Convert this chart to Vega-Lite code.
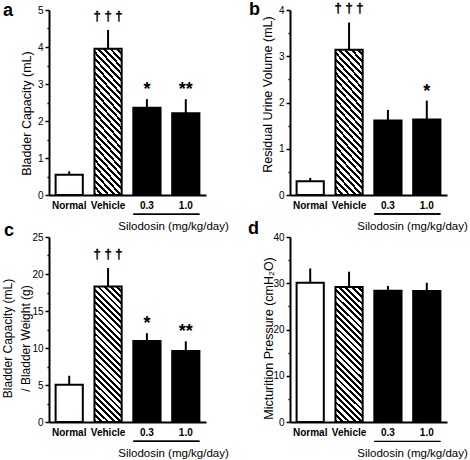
{
"$schema":"https://vega.github.io/schema/vega-lite/v6.json",
"columns":2,
"spacing":{"row":42,"column":84},
"bounds":"flush",
"padding":{"left":1,"top":0,"right":0,"bottom":0},
"config":{"font":"Liberation Sans","view":{"stroke":null},"axis":{"grid":false,"domainColor":"black","tickColor":"black","labelColor":"black","titleColor":"black","titleFontWeight":"normal"}},
"concat":[
{
 "width":157,"height":185,
 "title":{"text":"a","anchor":"start","frame":"group","orient":"top","offset":0,"dx":-46,"dy":29,"fontSize":18,"fontWeight":"bold","baseline":"alphabetic","color":"black"},
 "data":{"values":[
   {"g":"Normal","v":0.55,"hi":0.64,"sig":""},
   {"g":"Vehicle","v":3.95,"hi":4.46,"sig":"† † †"},
   {"g":"0.3","v":2.36,"hi":2.59,"sig":"*"},
   {"g":"1.0","v":2.21,"hi":2.59,"sig":"**"}]},
 "encoding":{
   "x":{"field":"g","type":"nominal","sort":null,"scale":{"paddingInner":0.3,"paddingOuter":0.17},
        "axis":{"title":"Silodosin (mg/kg/day)","titleX":124,"titleY":31,"titleAlign":"center","titleBaseline":"middle","titleFontSize":11.5,"titleFontWeight":"normal","labelAngle":0,"labelFont":"Liberation Sans","labelFontWeight":"bold","labelFontSize":10,"labelPadding":5,"ticks":false,"tickSize":0,"domainWidth":2}},
   "y":{"field":"v","type":"quantitative","scale":{"domain":[0,5],"nice":false},
        "axis":{"title":"Bladder Capacity (mL)","titleX":-23,"titleY":103,"titleAlign":"center","titleBaseline":"middle","values":[0,0.5,1,1.5,2,2.5,3,3.5,4,4.5,5],"labelExpr":"datum.value % 1 ? '' : '' + datum.value","tickSize":{"condition":{"test":"datum.value % 1 !== 0","value":2},"value":4},"tickWidth":1.5,"domainWidth":2,"labelFontSize":10,"labelPadding":2,"titleFontSize":12.5}}
 },
 "layer":[
  {"mark":{"type":"rule","strokeWidth":2,"color":"black"},"encoding":{"y2":{"field":"hi"}}},
  {"mark":{"type":"bar","stroke":"black","strokeWidth":2},"encoding":{"fill":{"condition":[{"test":"datum.g === 'Normal'","value":"white"},{"test":"datum.g === 'Vehicle'","value":{"gradient":"linear","x1":0,"y1":1,"x2":0.231,"y2":-0.154,"stops":[{"offset":0,"color":"#000"},{"offset":0.0173,"color":"#000"},{"offset":0.0173,"color":"#fff"},{"offset":0.0385,"color":"#fff"},{"offset":0.0385,"color":"#000"},{"offset":0.0558,"color":"#000"},{"offset":0.0558,"color":"#fff"},{"offset":0.0769,"color":"#fff"},{"offset":0.0769,"color":"#000"},{"offset":0.0942,"color":"#000"},{"offset":0.0942,"color":"#fff"},{"offset":0.1154,"color":"#fff"},{"offset":0.1154,"color":"#000"},{"offset":0.1327,"color":"#000"},{"offset":0.1327,"color":"#fff"},{"offset":0.1538,"color":"#fff"},{"offset":0.1538,"color":"#000"},{"offset":0.1712,"color":"#000"},{"offset":0.1712,"color":"#fff"},{"offset":0.1923,"color":"#fff"},{"offset":0.1923,"color":"#000"},{"offset":0.2096,"color":"#000"},{"offset":0.2096,"color":"#fff"},{"offset":0.2308,"color":"#fff"},{"offset":0.2308,"color":"#000"},{"offset":0.2481,"color":"#000"},{"offset":0.2481,"color":"#fff"},{"offset":0.2692,"color":"#fff"},{"offset":0.2692,"color":"#000"},{"offset":0.2865,"color":"#000"},{"offset":0.2865,"color":"#fff"},{"offset":0.3077,"color":"#fff"},{"offset":0.3077,"color":"#000"},{"offset":0.325,"color":"#000"},{"offset":0.325,"color":"#fff"},{"offset":0.3462,"color":"#fff"},{"offset":0.3462,"color":"#000"},{"offset":0.3635,"color":"#000"},{"offset":0.3635,"color":"#fff"},{"offset":0.3846,"color":"#fff"},{"offset":0.3846,"color":"#000"},{"offset":0.4019,"color":"#000"},{"offset":0.4019,"color":"#fff"},{"offset":0.4231,"color":"#fff"},{"offset":0.4231,"color":"#000"},{"offset":0.4404,"color":"#000"},{"offset":0.4404,"color":"#fff"},{"offset":0.4615,"color":"#fff"},{"offset":0.4615,"color":"#000"},{"offset":0.4788,"color":"#000"},{"offset":0.4788,"color":"#fff"},{"offset":0.5,"color":"#fff"},{"offset":0.5,"color":"#000"},{"offset":0.5173,"color":"#000"},{"offset":0.5173,"color":"#fff"},{"offset":0.5385,"color":"#fff"},{"offset":0.5385,"color":"#000"},{"offset":0.5558,"color":"#000"},{"offset":0.5558,"color":"#fff"},{"offset":0.5769,"color":"#fff"},{"offset":0.5769,"color":"#000"},{"offset":0.5942,"color":"#000"},{"offset":0.5942,"color":"#fff"},{"offset":0.6154,"color":"#fff"},{"offset":0.6154,"color":"#000"},{"offset":0.6327,"color":"#000"},{"offset":0.6327,"color":"#fff"},{"offset":0.6538,"color":"#fff"},{"offset":0.6538,"color":"#000"},{"offset":0.6712,"color":"#000"},{"offset":0.6712,"color":"#fff"},{"offset":0.6923,"color":"#fff"},{"offset":0.6923,"color":"#000"},{"offset":0.7096,"color":"#000"},{"offset":0.7096,"color":"#fff"},{"offset":0.7308,"color":"#fff"},{"offset":0.7308,"color":"#000"},{"offset":0.7481,"color":"#000"},{"offset":0.7481,"color":"#fff"},{"offset":0.7692,"color":"#fff"},{"offset":0.7692,"color":"#000"},{"offset":0.7865,"color":"#000"},{"offset":0.7865,"color":"#fff"},{"offset":0.8077,"color":"#fff"},{"offset":0.8077,"color":"#000"},{"offset":0.825,"color":"#000"},{"offset":0.825,"color":"#fff"},{"offset":0.8462,"color":"#fff"},{"offset":0.8462,"color":"#000"},{"offset":0.8635,"color":"#000"},{"offset":0.8635,"color":"#fff"},{"offset":0.8846,"color":"#fff"},{"offset":0.8846,"color":"#000"},{"offset":0.9019,"color":"#000"},{"offset":0.9019,"color":"#fff"},{"offset":0.9231,"color":"#fff"},{"offset":0.9231,"color":"#000"},{"offset":0.9404,"color":"#000"},{"offset":0.9404,"color":"#fff"},{"offset":0.9615,"color":"#fff"},{"offset":0.9615,"color":"#000"},{"offset":0.9788,"color":"#000"},{"offset":0.9788,"color":"#fff"},{"offset":1,"color":"#fff"}]}}],"value":"black"}}},
  {"transform":[{"filter":"datum.sig === '† † †'"}],"mark":{"type":"text","font":"Liberation Sans","fontSize":13,"baseline":"alphabetic","dy":-10,"fill":"black","stroke":"black","strokeWidth":0.5},"encoding":{"y":{"field":"hi","type":"quantitative"},"text":{"field":"sig"}}},
  {"transform":[{"filter":"datum.sig === '*' || datum.sig === '**'"}],"mark":{"type":"text","fontSize":18,"fontWeight":"bold","baseline":"alphabetic","dy":-4,"color":"black"},"encoding":{"y":{"field":"hi","type":"quantitative"},"text":{"field":"sig"}}},
  {"mark":{"type":"rule","strokeWidth":1,"color":"black"},"encoding":{"x":{"datum":"0.3","bandPosition":0},"x2":{"datum":"1.0","bandPosition":1},"y":{"datum":-0.52}}}
 ]
},
{
 "width":157,"height":185,
 "title":{"text":"b","anchor":"start","frame":"group","orient":"top","offset":0,"dx":-41,"dy":30.5,"fontSize":18,"fontWeight":"bold","baseline":"alphabetic","color":"black"},
 "data":{"values":[
   {"g":"Normal","v":0.30,"hi":0.37,"sig":""},
   {"g":"Vehicle","v":3.14,"hi":3.73,"sig":"† † †"},
   {"g":"0.3","v":1.61,"hi":1.84,"sig":""},
   {"g":"1.0","v":1.63,"hi":2.04,"sig":"*"}]},
 "encoding":{
   "x":{"field":"g","type":"nominal","sort":null,"scale":{"paddingInner":0.3,"paddingOuter":0.17},
        "axis":{"title":"Silodosin (mg/kg/day)","titleX":122,"titleY":31,"titleAlign":"center","titleBaseline":"middle","titleFontSize":11.5,"titleFontWeight":"normal","labelAngle":0,"labelFont":"Liberation Sans","labelFontWeight":"bold","labelFontSize":10,"labelPadding":5,"ticks":false,"tickSize":0,"domainWidth":2}},
   "y":{"field":"v","type":"quantitative","scale":{"domain":[0,4],"nice":false},
        "axis":{"title":"Residual Urine Volume (mL)","titleX":-23,"titleY":84,"titleAlign":"center","titleBaseline":"middle","values":[0,0.5,1,1.5,2,2.5,3,3.5,4],"labelExpr":"datum.value % 1 ? '' : '' + datum.value","tickSize":{"condition":{"test":"datum.value % 1 !== 0","value":2},"value":4},"tickWidth":1.5,"domainWidth":2,"labelFontSize":10,"labelPadding":2,"titleFontSize":12.5}}
 },
 "layer":[
  {"mark":{"type":"rule","strokeWidth":2,"color":"black"},"encoding":{"y2":{"field":"hi"}}},
  {"mark":{"type":"bar","stroke":"black","strokeWidth":2},"encoding":{"fill":{"condition":[{"test":"datum.g === 'Normal'","value":"white"},{"test":"datum.g === 'Vehicle'","value":{"gradient":"linear","x1":0,"y1":1,"x2":0.231,"y2":-0.154,"stops":[{"offset":0,"color":"#000"},{"offset":0.0173,"color":"#000"},{"offset":0.0173,"color":"#fff"},{"offset":0.0385,"color":"#fff"},{"offset":0.0385,"color":"#000"},{"offset":0.0558,"color":"#000"},{"offset":0.0558,"color":"#fff"},{"offset":0.0769,"color":"#fff"},{"offset":0.0769,"color":"#000"},{"offset":0.0942,"color":"#000"},{"offset":0.0942,"color":"#fff"},{"offset":0.1154,"color":"#fff"},{"offset":0.1154,"color":"#000"},{"offset":0.1327,"color":"#000"},{"offset":0.1327,"color":"#fff"},{"offset":0.1538,"color":"#fff"},{"offset":0.1538,"color":"#000"},{"offset":0.1712,"color":"#000"},{"offset":0.1712,"color":"#fff"},{"offset":0.1923,"color":"#fff"},{"offset":0.1923,"color":"#000"},{"offset":0.2096,"color":"#000"},{"offset":0.2096,"color":"#fff"},{"offset":0.2308,"color":"#fff"},{"offset":0.2308,"color":"#000"},{"offset":0.2481,"color":"#000"},{"offset":0.2481,"color":"#fff"},{"offset":0.2692,"color":"#fff"},{"offset":0.2692,"color":"#000"},{"offset":0.2865,"color":"#000"},{"offset":0.2865,"color":"#fff"},{"offset":0.3077,"color":"#fff"},{"offset":0.3077,"color":"#000"},{"offset":0.325,"color":"#000"},{"offset":0.325,"color":"#fff"},{"offset":0.3462,"color":"#fff"},{"offset":0.3462,"color":"#000"},{"offset":0.3635,"color":"#000"},{"offset":0.3635,"color":"#fff"},{"offset":0.3846,"color":"#fff"},{"offset":0.3846,"color":"#000"},{"offset":0.4019,"color":"#000"},{"offset":0.4019,"color":"#fff"},{"offset":0.4231,"color":"#fff"},{"offset":0.4231,"color":"#000"},{"offset":0.4404,"color":"#000"},{"offset":0.4404,"color":"#fff"},{"offset":0.4615,"color":"#fff"},{"offset":0.4615,"color":"#000"},{"offset":0.4788,"color":"#000"},{"offset":0.4788,"color":"#fff"},{"offset":0.5,"color":"#fff"},{"offset":0.5,"color":"#000"},{"offset":0.5173,"color":"#000"},{"offset":0.5173,"color":"#fff"},{"offset":0.5385,"color":"#fff"},{"offset":0.5385,"color":"#000"},{"offset":0.5558,"color":"#000"},{"offset":0.5558,"color":"#fff"},{"offset":0.5769,"color":"#fff"},{"offset":0.5769,"color":"#000"},{"offset":0.5942,"color":"#000"},{"offset":0.5942,"color":"#fff"},{"offset":0.6154,"color":"#fff"},{"offset":0.6154,"color":"#000"},{"offset":0.6327,"color":"#000"},{"offset":0.6327,"color":"#fff"},{"offset":0.6538,"color":"#fff"},{"offset":0.6538,"color":"#000"},{"offset":0.6712,"color":"#000"},{"offset":0.6712,"color":"#fff"},{"offset":0.6923,"color":"#fff"},{"offset":0.6923,"color":"#000"},{"offset":0.7096,"color":"#000"},{"offset":0.7096,"color":"#fff"},{"offset":0.7308,"color":"#fff"},{"offset":0.7308,"color":"#000"},{"offset":0.7481,"color":"#000"},{"offset":0.7481,"color":"#fff"},{"offset":0.7692,"color":"#fff"},{"offset":0.7692,"color":"#000"},{"offset":0.7865,"color":"#000"},{"offset":0.7865,"color":"#fff"},{"offset":0.8077,"color":"#fff"},{"offset":0.8077,"color":"#000"},{"offset":0.825,"color":"#000"},{"offset":0.825,"color":"#fff"},{"offset":0.8462,"color":"#fff"},{"offset":0.8462,"color":"#000"},{"offset":0.8635,"color":"#000"},{"offset":0.8635,"color":"#fff"},{"offset":0.8846,"color":"#fff"},{"offset":0.8846,"color":"#000"},{"offset":0.9019,"color":"#000"},{"offset":0.9019,"color":"#fff"},{"offset":0.9231,"color":"#fff"},{"offset":0.9231,"color":"#000"},{"offset":0.9404,"color":"#000"},{"offset":0.9404,"color":"#fff"},{"offset":0.9615,"color":"#fff"},{"offset":0.9615,"color":"#000"},{"offset":0.9788,"color":"#000"},{"offset":0.9788,"color":"#fff"},{"offset":1,"color":"#fff"}]}}],"value":"black"}}},
  {"transform":[{"filter":"datum.sig === '† † †'"}],"mark":{"type":"text","font":"Liberation Sans","fontSize":13,"baseline":"alphabetic","dy":-10,"fill":"black","stroke":"black","strokeWidth":0.5},"encoding":{"y":{"field":"hi","type":"quantitative"},"text":{"field":"sig"}}},
  {"transform":[{"filter":"datum.sig === '*' || datum.sig === '**'"}],"mark":{"type":"text","fontSize":18,"fontWeight":"bold","baseline":"alphabetic","dy":-4,"color":"black"},"encoding":{"y":{"field":"hi","type":"quantitative"},"text":{"field":"sig"}}},
  {"mark":{"type":"rule","strokeWidth":1,"color":"black"},"encoding":{"x":{"datum":"0.3","bandPosition":0},"x2":{"datum":"1.0","bandPosition":1},"y":{"datum":-0.41}}}
 ]
},
{
 "width":157,"height":185,
 "title":{"text":"c","anchor":"start","frame":"group","orient":"top","offset":0,"dx":-45,"dy":22,"fontSize":18,"fontWeight":"bold","baseline":"alphabetic","color":"black"},
 "data":{"values":[
   {"g":"Normal","v":5.05,"hi":6.25,"sig":""},
   {"g":"Vehicle","v":18.3,"hi":20.8,"sig":"† † †"},
   {"g":"0.3","v":10.95,"hi":12.0,"sig":"*"},
   {"g":"1.0","v":9.6,"hi":10.9,"sig":"**"}]},
 "encoding":{
   "x":{"field":"g","type":"nominal","sort":null,"scale":{"paddingInner":0.3,"paddingOuter":0.17},
        "axis":{"title":"Silodosin (mg/kg/day)","titleX":124,"titleY":31,"titleAlign":"center","titleBaseline":"middle","titleFontSize":11.5,"titleFontWeight":"normal","labelAngle":0,"labelFont":"Liberation Sans","labelFontWeight":"bold","labelFontSize":10,"labelPadding":5,"ticks":false,"tickSize":0,"domainWidth":2}},
   "y":{"field":"v","type":"quantitative","scale":{"domain":[0,25],"nice":false},
        "axis":{"title":["Bladder Capacity (mL)","/ Bladder Weight (g)"],"titleLineHeight":18,"titleX":-42,"titleY":101,"titleAlign":"center","titleBaseline":"middle","values":[0,2.5,5,7.5,10,12.5,15,17.5,20,22.5,25],"labelExpr":"datum.value % 5 ? '' : '' + datum.value","tickSize":{"condition":{"test":"datum.value % 5 !== 0","value":2},"value":4},"tickWidth":1.5,"domainWidth":2,"labelFontSize":10,"labelPadding":2,"titleFontSize":12}}
 },
 "layer":[
  {"mark":{"type":"rule","strokeWidth":2,"color":"black"},"encoding":{"y2":{"field":"hi"}}},
  {"mark":{"type":"bar","stroke":"black","strokeWidth":2},"encoding":{"fill":{"condition":[{"test":"datum.g === 'Normal'","value":"white"},{"test":"datum.g === 'Vehicle'","value":{"gradient":"linear","x1":0,"y1":1,"x2":0.231,"y2":-0.154,"stops":[{"offset":0,"color":"#000"},{"offset":0.0173,"color":"#000"},{"offset":0.0173,"color":"#fff"},{"offset":0.0385,"color":"#fff"},{"offset":0.0385,"color":"#000"},{"offset":0.0558,"color":"#000"},{"offset":0.0558,"color":"#fff"},{"offset":0.0769,"color":"#fff"},{"offset":0.0769,"color":"#000"},{"offset":0.0942,"color":"#000"},{"offset":0.0942,"color":"#fff"},{"offset":0.1154,"color":"#fff"},{"offset":0.1154,"color":"#000"},{"offset":0.1327,"color":"#000"},{"offset":0.1327,"color":"#fff"},{"offset":0.1538,"color":"#fff"},{"offset":0.1538,"color":"#000"},{"offset":0.1712,"color":"#000"},{"offset":0.1712,"color":"#fff"},{"offset":0.1923,"color":"#fff"},{"offset":0.1923,"color":"#000"},{"offset":0.2096,"color":"#000"},{"offset":0.2096,"color":"#fff"},{"offset":0.2308,"color":"#fff"},{"offset":0.2308,"color":"#000"},{"offset":0.2481,"color":"#000"},{"offset":0.2481,"color":"#fff"},{"offset":0.2692,"color":"#fff"},{"offset":0.2692,"color":"#000"},{"offset":0.2865,"color":"#000"},{"offset":0.2865,"color":"#fff"},{"offset":0.3077,"color":"#fff"},{"offset":0.3077,"color":"#000"},{"offset":0.325,"color":"#000"},{"offset":0.325,"color":"#fff"},{"offset":0.3462,"color":"#fff"},{"offset":0.3462,"color":"#000"},{"offset":0.3635,"color":"#000"},{"offset":0.3635,"color":"#fff"},{"offset":0.3846,"color":"#fff"},{"offset":0.3846,"color":"#000"},{"offset":0.4019,"color":"#000"},{"offset":0.4019,"color":"#fff"},{"offset":0.4231,"color":"#fff"},{"offset":0.4231,"color":"#000"},{"offset":0.4404,"color":"#000"},{"offset":0.4404,"color":"#fff"},{"offset":0.4615,"color":"#fff"},{"offset":0.4615,"color":"#000"},{"offset":0.4788,"color":"#000"},{"offset":0.4788,"color":"#fff"},{"offset":0.5,"color":"#fff"},{"offset":0.5,"color":"#000"},{"offset":0.5173,"color":"#000"},{"offset":0.5173,"color":"#fff"},{"offset":0.5385,"color":"#fff"},{"offset":0.5385,"color":"#000"},{"offset":0.5558,"color":"#000"},{"offset":0.5558,"color":"#fff"},{"offset":0.5769,"color":"#fff"},{"offset":0.5769,"color":"#000"},{"offset":0.5942,"color":"#000"},{"offset":0.5942,"color":"#fff"},{"offset":0.6154,"color":"#fff"},{"offset":0.6154,"color":"#000"},{"offset":0.6327,"color":"#000"},{"offset":0.6327,"color":"#fff"},{"offset":0.6538,"color":"#fff"},{"offset":0.6538,"color":"#000"},{"offset":0.6712,"color":"#000"},{"offset":0.6712,"color":"#fff"},{"offset":0.6923,"color":"#fff"},{"offset":0.6923,"color":"#000"},{"offset":0.7096,"color":"#000"},{"offset":0.7096,"color":"#fff"},{"offset":0.7308,"color":"#fff"},{"offset":0.7308,"color":"#000"},{"offset":0.7481,"color":"#000"},{"offset":0.7481,"color":"#fff"},{"offset":0.7692,"color":"#fff"},{"offset":0.7692,"color":"#000"},{"offset":0.7865,"color":"#000"},{"offset":0.7865,"color":"#fff"},{"offset":0.8077,"color":"#fff"},{"offset":0.8077,"color":"#000"},{"offset":0.825,"color":"#000"},{"offset":0.825,"color":"#fff"},{"offset":0.8462,"color":"#fff"},{"offset":0.8462,"color":"#000"},{"offset":0.8635,"color":"#000"},{"offset":0.8635,"color":"#fff"},{"offset":0.8846,"color":"#fff"},{"offset":0.8846,"color":"#000"},{"offset":0.9019,"color":"#000"},{"offset":0.9019,"color":"#fff"},{"offset":0.9231,"color":"#fff"},{"offset":0.9231,"color":"#000"},{"offset":0.9404,"color":"#000"},{"offset":0.9404,"color":"#fff"},{"offset":0.9615,"color":"#fff"},{"offset":0.9615,"color":"#000"},{"offset":0.9788,"color":"#000"},{"offset":0.9788,"color":"#fff"},{"offset":1,"color":"#fff"}]}}],"value":"black"}}},
  {"transform":[{"filter":"datum.sig === '† † †'"}],"mark":{"type":"text","font":"Liberation Sans","fontSize":13,"baseline":"alphabetic","dy":-10,"fill":"black","stroke":"black","strokeWidth":0.5},"encoding":{"y":{"field":"hi","type":"quantitative"},"text":{"field":"sig"}}},
  {"transform":[{"filter":"datum.sig === '*' || datum.sig === '**'"}],"mark":{"type":"text","fontSize":18,"fontWeight":"bold","baseline":"alphabetic","dy":-4,"color":"black"},"encoding":{"y":{"field":"hi","type":"quantitative"},"text":{"field":"sig"}}},
  {"mark":{"type":"rule","strokeWidth":1,"color":"black"},"encoding":{"x":{"datum":"0.3","bandPosition":0},"x2":{"datum":"1.0","bandPosition":1},"y":{"datum":-2.6}}}
 ]
},
{
 "width":157,"height":185,
 "title":{"text":"d","anchor":"start","frame":"group","orient":"top","offset":0,"dx":-42,"dy":20,"fontSize":18,"fontWeight":"bold","baseline":"alphabetic","color":"black"},
 "data":{"values":[
   {"g":"Normal","v":30.1,"hi":33.2,"sig":""},
   {"g":"Vehicle","v":29.2,"hi":32.5,"sig":""},
   {"g":"0.3","v":28.4,"hi":29.4,"sig":""},
   {"g":"1.0","v":28.3,"hi":30.1,"sig":""}]},
 "encoding":{
   "x":{"field":"g","type":"nominal","sort":null,"scale":{"paddingInner":0.3,"paddingOuter":0.17},
        "axis":{"title":"Silodosin (mg/kg/day)","titleX":122,"titleY":31,"titleAlign":"center","titleBaseline":"middle","titleFontSize":11.5,"titleFontWeight":"normal","labelAngle":0,"labelFont":"Liberation Sans","labelFontWeight":"bold","labelFontSize":10,"labelPadding":5,"ticks":false,"tickSize":0,"domainWidth":2}},
   "y":{"field":"v","type":"quantitative","scale":{"domain":[0,40],"nice":false},
        "axis":{"title":"Micturition Pressure (cmH₂O)","titleX":-22,"titleY":101,"titleAlign":"center","titleBaseline":"middle","values":[0,5,10,15,20,25,30,35,40],"labelExpr":"datum.value % 10 ? '' : '' + datum.value","tickSize":{"condition":{"test":"datum.value % 10 !== 0","value":2},"value":4},"tickWidth":1.5,"domainWidth":2,"labelFontSize":10,"labelPadding":2,"titleFontSize":12.5}}
 },
 "layer":[
  {"mark":{"type":"rule","strokeWidth":2,"color":"black"},"encoding":{"y2":{"field":"hi"}}},
  {"mark":{"type":"bar","stroke":"black","strokeWidth":2},"encoding":{"fill":{"condition":[{"test":"datum.g === 'Normal'","value":"white"},{"test":"datum.g === 'Vehicle'","value":{"gradient":"linear","x1":0,"y1":1,"x2":0.231,"y2":-0.154,"stops":[{"offset":0,"color":"#000"},{"offset":0.0173,"color":"#000"},{"offset":0.0173,"color":"#fff"},{"offset":0.0385,"color":"#fff"},{"offset":0.0385,"color":"#000"},{"offset":0.0558,"color":"#000"},{"offset":0.0558,"color":"#fff"},{"offset":0.0769,"color":"#fff"},{"offset":0.0769,"color":"#000"},{"offset":0.0942,"color":"#000"},{"offset":0.0942,"color":"#fff"},{"offset":0.1154,"color":"#fff"},{"offset":0.1154,"color":"#000"},{"offset":0.1327,"color":"#000"},{"offset":0.1327,"color":"#fff"},{"offset":0.1538,"color":"#fff"},{"offset":0.1538,"color":"#000"},{"offset":0.1712,"color":"#000"},{"offset":0.1712,"color":"#fff"},{"offset":0.1923,"color":"#fff"},{"offset":0.1923,"color":"#000"},{"offset":0.2096,"color":"#000"},{"offset":0.2096,"color":"#fff"},{"offset":0.2308,"color":"#fff"},{"offset":0.2308,"color":"#000"},{"offset":0.2481,"color":"#000"},{"offset":0.2481,"color":"#fff"},{"offset":0.2692,"color":"#fff"},{"offset":0.2692,"color":"#000"},{"offset":0.2865,"color":"#000"},{"offset":0.2865,"color":"#fff"},{"offset":0.3077,"color":"#fff"},{"offset":0.3077,"color":"#000"},{"offset":0.325,"color":"#000"},{"offset":0.325,"color":"#fff"},{"offset":0.3462,"color":"#fff"},{"offset":0.3462,"color":"#000"},{"offset":0.3635,"color":"#000"},{"offset":0.3635,"color":"#fff"},{"offset":0.3846,"color":"#fff"},{"offset":0.3846,"color":"#000"},{"offset":0.4019,"color":"#000"},{"offset":0.4019,"color":"#fff"},{"offset":0.4231,"color":"#fff"},{"offset":0.4231,"color":"#000"},{"offset":0.4404,"color":"#000"},{"offset":0.4404,"color":"#fff"},{"offset":0.4615,"color":"#fff"},{"offset":0.4615,"color":"#000"},{"offset":0.4788,"color":"#000"},{"offset":0.4788,"color":"#fff"},{"offset":0.5,"color":"#fff"},{"offset":0.5,"color":"#000"},{"offset":0.5173,"color":"#000"},{"offset":0.5173,"color":"#fff"},{"offset":0.5385,"color":"#fff"},{"offset":0.5385,"color":"#000"},{"offset":0.5558,"color":"#000"},{"offset":0.5558,"color":"#fff"},{"offset":0.5769,"color":"#fff"},{"offset":0.5769,"color":"#000"},{"offset":0.5942,"color":"#000"},{"offset":0.5942,"color":"#fff"},{"offset":0.6154,"color":"#fff"},{"offset":0.6154,"color":"#000"},{"offset":0.6327,"color":"#000"},{"offset":0.6327,"color":"#fff"},{"offset":0.6538,"color":"#fff"},{"offset":0.6538,"color":"#000"},{"offset":0.6712,"color":"#000"},{"offset":0.6712,"color":"#fff"},{"offset":0.6923,"color":"#fff"},{"offset":0.6923,"color":"#000"},{"offset":0.7096,"color":"#000"},{"offset":0.7096,"color":"#fff"},{"offset":0.7308,"color":"#fff"},{"offset":0.7308,"color":"#000"},{"offset":0.7481,"color":"#000"},{"offset":0.7481,"color":"#fff"},{"offset":0.7692,"color":"#fff"},{"offset":0.7692,"color":"#000"},{"offset":0.7865,"color":"#000"},{"offset":0.7865,"color":"#fff"},{"offset":0.8077,"color":"#fff"},{"offset":0.8077,"color":"#000"},{"offset":0.825,"color":"#000"},{"offset":0.825,"color":"#fff"},{"offset":0.8462,"color":"#fff"},{"offset":0.8462,"color":"#000"},{"offset":0.8635,"color":"#000"},{"offset":0.8635,"color":"#fff"},{"offset":0.8846,"color":"#fff"},{"offset":0.8846,"color":"#000"},{"offset":0.9019,"color":"#000"},{"offset":0.9019,"color":"#fff"},{"offset":0.9231,"color":"#fff"},{"offset":0.9231,"color":"#000"},{"offset":0.9404,"color":"#000"},{"offset":0.9404,"color":"#fff"},{"offset":0.9615,"color":"#fff"},{"offset":0.9615,"color":"#000"},{"offset":0.9788,"color":"#000"},{"offset":0.9788,"color":"#fff"},{"offset":1,"color":"#fff"}]}}],"value":"black"}}},
  {"mark":{"type":"rule","strokeWidth":1,"color":"black"},"encoding":{"x":{"datum":"0.3","bandPosition":0},"x2":{"datum":"1.0","bandPosition":1},"y":{"datum":-4.2}}}
 ]
}
]
}
